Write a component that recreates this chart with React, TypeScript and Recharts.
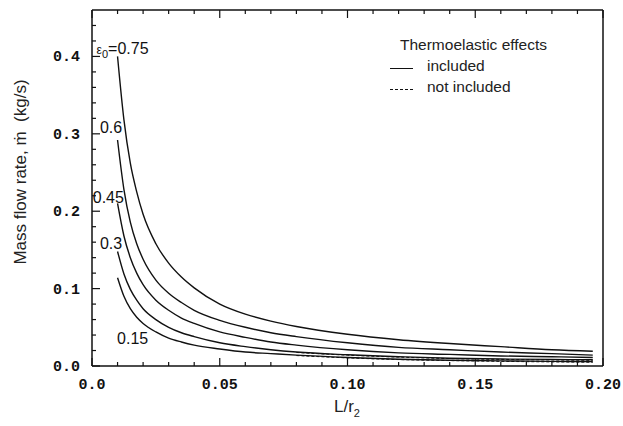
import React from "react";
import { LineChart, Line, XAxis, YAxis, ReferenceDot } from "recharts";

// L/r2 sample positions
const lr = [0.01, 0.0125, 0.015, 0.0175, 0.02, 0.025, 0.03, 0.035, 0.04, 0.05, 0.06, 0.07, 0.08, 0.1, 0.12, 0.14, 0.16, 0.18, 0.196];

// mass flow rate (kg/s), thermoelastic effects included
const e075 = [0.4, 0.318, 0.262, 0.225, 0.196, 0.158, 0.133, 0.115, 0.101, 0.08, 0.067, 0.058, 0.051, 0.041, 0.034, 0.029, 0.025, 0.021, 0.019];
const e060 = [0.292, 0.228, 0.186, 0.158, 0.138, 0.111, 0.094, 0.082, 0.072, 0.059, 0.05, 0.043, 0.038, 0.03, 0.024, 0.021, 0.018, 0.016, 0.014];
const e045 = [0.21, 0.168, 0.14, 0.12, 0.105, 0.085, 0.072, 0.062, 0.055, 0.044, 0.037, 0.031, 0.027, 0.021, 0.017, 0.015, 0.013, 0.012, 0.011];
const e030 = [0.148, 0.119, 0.099, 0.085, 0.074, 0.06, 0.05, 0.043, 0.038, 0.03, 0.025, 0.021, 0.018, 0.0145, 0.012, 0.01, 0.009, 0.0085, 0.008];
const e015 = [0.114, 0.09, 0.074, 0.063, 0.055, 0.044, 0.036, 0.031, 0.027, 0.022, 0.018, 0.016, 0.014, 0.011, 0.0088, 0.0075, 0.0066, 0.006, 0.0056];

// not included: only separates from the solid curves at the right-hand end
const n030 = [null, null, null, null, null, null, null, null, null, null, null, null, 0.0175, 0.014, 0.0115, 0.0096, 0.0085, 0.0078, 0.0073];
const n015 = [null, null, null, null, null, null, null, null, null, null, null, null, 0.0135, 0.0105, 0.0083, 0.007, 0.006, 0.0053, 0.0048];

const xTicks = [0, 0.01, 0.02, 0.03, 0.04, 0.05, 0.06, 0.07, 0.08, 0.09, 0.1, 0.11, 0.12, 0.13, 0.14, 0.15, 0.16, 0.17, 0.18, 0.19, 0.2];
const xMajor = [0, 0.05, 0.1, 0.15, 0.2];
const xMajorLabels = ["0.0", "0.05", "0.10", "0.15", "0.20"];
const yTicks = [0, 0.02, 0.04, 0.06, 0.08, 0.1, 0.12, 0.14, 0.16, 0.18, 0.2, 0.22, 0.24, 0.26, 0.28, 0.3, 0.32, 0.34, 0.36, 0.38, 0.4, 0.42, 0.44];
const yMajor = [0, 0.1, 0.2, 0.3, 0.4];
const yMajorLabels = ["0.0", "0.1", "0.2", "0.3", "0.4"];

const rows = lr.map((x, i) => ({
  lr: x, e075: e075[i], e060: e060[i], e045: e045[i], e030: e030[i], e015: e015[i],
  n030: n030[i], n015: n015[i],
}));

const INK = "#111";
const TICK_FONT = "'Liberation Mono', 'DejaVu Sans Mono', monospace";
const SANS = "'Liberation Sans', Arial, sans-serif";

const majorIndex = (list: number[], v: number) => list.findIndex((m) => Math.abs(m - v) < 1e-9);

function XTick(props: any) {
  const { x, y, payload, side } = props;
  const i = majorIndex(xMajor, payload.value);
  const len = i >= 0 ? 8 : 4;
  const dir = side === "bottom" ? -1 : 1;
  return (
    <g>
      <line x1={x} x2={x} y1={y} y2={y + dir * len} stroke={INK} strokeWidth={1.2} />
      {side === "bottom" && i >= 0 && (
        <text x={x} y={y + 23} textAnchor="middle" fontFamily={TICK_FONT} fontWeight="bold" fontSize={15} fill={INK}>
          {xMajorLabels[i]}
        </text>
      )}
    </g>
  );
}

function YTick(props: any) {
  const { x, y, payload, side } = props;
  const i = majorIndex(yMajor, payload.value);
  const len = i >= 0 ? 8 : 4;
  const dir = side === "left" ? 1 : -1;
  return (
    <g>
      <line x1={x} x2={x + dir * len} y1={y} y2={y} stroke={INK} strokeWidth={1.2} />
      {side === "left" && i >= 0 && (
        <text x={x - 12} y={y + 5} textAnchor="end" fontFamily={TICK_FONT} fontWeight="bold" fontSize={15} fill={INK}>
          {yMajorLabels[i]}
        </text>
      )}
    </g>
  );
}

const curveText = (value: string, sub?: string) => (p: any) => {
  const { x, y } = p.viewBox;
  return (
    <text x={x} y={y + 6} fontFamily={SANS} fontSize={16} fill={INK}>
      {sub ? (
        <>
          <tspan fontSize={12}>ε</tspan>
          <tspan fontSize={11} dy={4}>{sub}</tspan>
          <tspan dy={-4}>{value}</tspan>
        </>
      ) : value}
    </text>
  );
};

const curveLabels = [
  { x: 0.0018, y: 0.411, text: "=0.75", sub: "0" },
  { x: 0.0031, y: 0.309, text: "0.6" },
  { x: 0.0003, y: 0.219, text: "0.45" },
  { x: 0.0031, y: 0.159, text: "0.3" },
  { x: 0.0098, y: 0.036, text: "0.15" },
];

const solid = ["e075", "e060", "e045", "e030", "e015"];
const dashed = ["n030", "n015"];

export default function App() {
  return (
    <div style={{ position: "absolute", left: 0, top: 0, width: 623, height: 426, background: "#fff" }}>
      <LineChart width={623} height={426} data={rows} margin={{ top: 9, right: 19, bottom: 59, left: 91 }}>
        <XAxis xAxisId="b" dataKey="lr" type="number" domain={[0, 0.2]} ticks={xTicks} interval={0}
          height={1} tickSize={0} tickMargin={0} axisLine={{ stroke: INK, strokeWidth: 1.5 }}
          tick={(p: any) => <XTick {...p} side="bottom" />} />
        <XAxis xAxisId="t" orientation="top" dataKey="lr" type="number" domain={[0, 0.2]} ticks={xTicks} interval={0}
          height={1} tickSize={0} tickMargin={0} axisLine={{ stroke: INK, strokeWidth: 1.5 }}
          tick={(p: any) => <XTick {...p} side="top" />} />
        <YAxis yAxisId="l" type="number" domain={[0, 0.46]} ticks={yTicks} interval={0}
          width={1} tickSize={0} tickMargin={0} axisLine={{ stroke: INK, strokeWidth: 1.5 }}
          tick={(p: any) => <YTick {...p} side="left" />} />
        <YAxis yAxisId="r" orientation="right" type="number" domain={[0, 0.46]} ticks={yTicks} interval={0}
          width={1} tickSize={0} tickMargin={0} axisLine={{ stroke: INK, strokeWidth: 1.5 }}
          tick={(p: any) => <YTick {...p} side="right" />} />
        {dashed.map((k) => (
          <Line key={k} xAxisId="b" yAxisId="l" dataKey={k} type="monotone" stroke={INK} strokeWidth={1}
            strokeDasharray="3 2" dot={false} isAnimationActive={false} />
        ))}
        {solid.map((k) => (
          <Line key={k} xAxisId="b" yAxisId="l" dataKey={k} type="monotone" stroke={INK} strokeWidth={1.4}
            dot={false} isAnimationActive={false} />
        ))}
        {curveLabels.map((c) => (
          <ReferenceDot key={c.text} xAxisId="b" yAxisId="l" x={c.x} y={c.y} r={0} fill="none" stroke="none"
            label={{ content: curveText(c.text, c.sub) }} />
        ))}
      </LineChart>

      <div style={{ position: "absolute", left: 400, top: 34, fontFamily: SANS, fontSize: 15.5, color: "#222", lineHeight: "21px" }}>
        <div>Thermoelastic effects</div>
        <div style={{ display: "flex", alignItems: "center" }}>
          <span style={{ width: 23, marginLeft: -10, marginRight: 14, borderTop: `1.2px solid ${INK}`, marginTop: 6 }} />
          included
        </div>
        <div style={{ display: "flex", alignItems: "center" }}>
          <span style={{ width: 23, marginLeft: -10, marginRight: 14, borderTop: `1.2px dashed ${INK}`, marginTop: 6 }} />
          not included
        </div>
      </div>

      <div style={{
        position: "absolute", left: 21, top: 172, transform: "translate(-50%, -50%) rotate(-90deg)",
        whiteSpace: "nowrap", fontFamily: SANS, fontSize: 17, color: "#222",
      }}>
        Mass flow rate, ṁ&nbsp;&nbsp;(kg/s)
      </div>

      <div style={{
        position: "absolute", left: 347, top: 408, transform: "translate(-50%, -50%)",
        whiteSpace: "nowrap", fontFamily: SANS, fontSize: 17, color: "#222",
      }}>
        L/r<sub style={{ fontSize: 11 }}>2</sub>
      </div>
    </div>
  );
}
